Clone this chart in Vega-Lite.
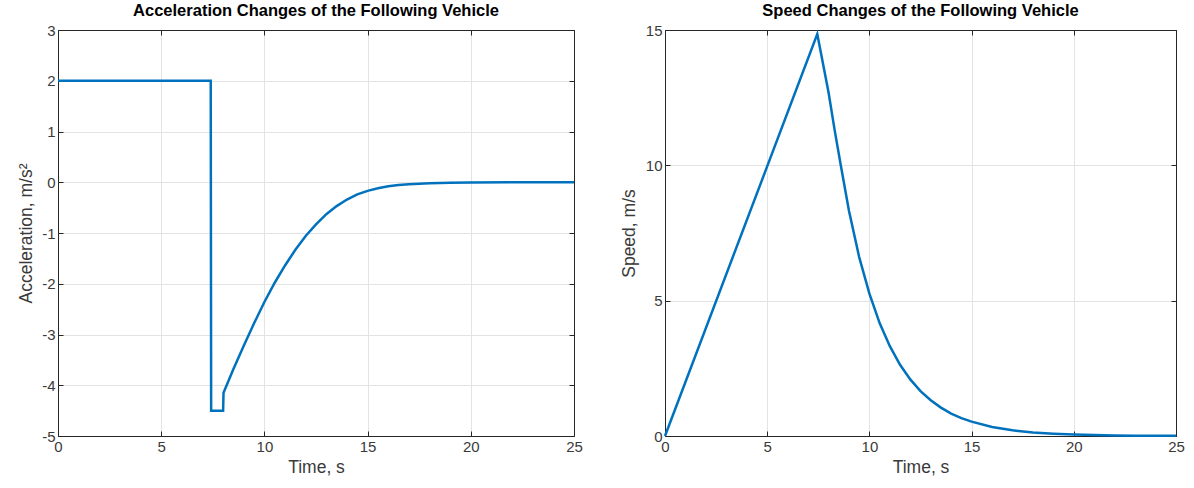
{
  "$schema": "https://vega.github.io/schema/vega-lite/v6.json",
  "background": "white",
  "padding": {"left": 17, "top": 2, "right": 14, "bottom": 5},
  "config": {
    "font": "Liberation Sans",
    "view": {"stroke": "#262626", "strokeWidth": 1},
    "title": {"font": "Liberation Sans", "fontSize": 16.5, "fontWeight": "bold", "color": "#000000", "offset": 4},
    "axis": {
      "labelFont": "Liberation Sans", "labelFontSize": 15, "labelColor": "#3a3a3a", "labelFlush": false,
      "labelExpr": "replace(datum.label, '\u2212', '-')",
      "titleFont": "Liberation Sans", "titleFontSize": 17.5, "titleFontWeight": "normal", "titleColor": "#3a3a3a",
      "domainColor": "#262626", "tickColor": "#262626", "tickSize": -5, "labelPadding": 8,
      "gridColor": "#e3e3e3", "gridWidth": 1
    }
  },
  "datasets": {
    "accel": [
      {"t": 0, "a": 2}, {"t": 7.4, "a": 2}, {"t": 7.42, "a": -4.5}, {"t": 8.0, "a": -4.5}, {"t": 8.02, "a": -4.15},
      {"t": 8.5, "a": -3.68}, {"t": 9.0, "a": -3.22}, {"t": 9.5, "a": -2.78}, {"t": 10.0, "a": -2.36},
      {"t": 10.5, "a": -1.98}, {"t": 11.0, "a": -1.64}, {"t": 11.5, "a": -1.33}, {"t": 12.0, "a": -1.06},
      {"t": 12.5, "a": -0.83}, {"t": 13.0, "a": -0.63}, {"t": 13.5, "a": -0.47}, {"t": 14.0, "a": -0.34},
      {"t": 14.5, "a": -0.24}, {"t": 15.0, "a": -0.17}, {"t": 15.5, "a": -0.12}, {"t": 16.0, "a": -0.08},
      {"t": 16.5, "a": -0.055}, {"t": 17.0, "a": -0.038}, {"t": 18.0, "a": -0.018}, {"t": 19.0, "a": -0.009},
      {"t": 20.0, "a": -0.004}, {"t": 22.0, "a": -0.001}, {"t": 25.0, "a": 0}
    ],
    "speed": [
      {"t": 0, "v": 0}, {"t": 7.45, "v": 14.85}, {"t": 8.0, "v": 12.7}, {"t": 8.3, "v": 11.3},
      {"t": 8.6, "v": 10.0}, {"t": 9.0, "v": 8.32}, {"t": 9.5, "v": 6.61}, {"t": 10.0, "v": 5.26},
      {"t": 10.5, "v": 4.17}, {"t": 11.0, "v": 3.32}, {"t": 11.5, "v": 2.63}, {"t": 12.0, "v": 2.09},
      {"t": 12.5, "v": 1.66}, {"t": 13.0, "v": 1.32}, {"t": 13.5, "v": 1.05}, {"t": 14.0, "v": 0.83},
      {"t": 14.5, "v": 0.66}, {"t": 15.0, "v": 0.53}, {"t": 16.0, "v": 0.33}, {"t": 17.0, "v": 0.21},
      {"t": 18.0, "v": 0.13}, {"t": 19.0, "v": 0.084}, {"t": 20.0, "v": 0.053}, {"t": 21.0, "v": 0.033},
      {"t": 22.0, "v": 0.021}, {"t": 23.0, "v": 0.013}, {"t": 24.0, "v": 0.008}, {"t": 25.0, "v": 0.005}
    ]
  },
  "spacing": 91,
  "bounds": "flush",
  "hconcat": [
    {
      "title": "Acceleration Changes of the Following Vehicle",
      "width": 516,
      "height": 406,
      "data": {"name": "accel"},
      "layer": [
        {
          "mark": {"type": "line", "color": "#0072BD", "strokeWidth": 2.5},
          "encoding": {
            "x": {"field": "t", "type": "quantitative", "scale": {"domain": [0, 25], "nice": false},
                  "axis": {"values": [0, 5, 10, 15, 20, 25], "title": "Time, s", "grid": true, "titlePadding": 4}},
            "y": {"field": "a", "type": "quantitative", "scale": {"domain": [-5, 3], "nice": false},
                  "axis": {"values": [-5, -4, -3, -2, -1, 0, 1, 2, 3], "title": "Acceleration, m/s²", "grid": true, "titlePadding": 6}}
          }
        },
        {
          "mark": {"type": "line", "opacity": 0},
          "encoding": {
            "x": {"field": "t", "type": "quantitative",
                  "axis": {"orient": "top", "values": [0, 5, 10, 15, 20, 25], "labels": false, "title": null, "grid": false}},
            "y": {"field": "a", "type": "quantitative",
                  "axis": {"orient": "right", "values": [-5, -4, -3, -2, -1, 0, 1, 2, 3], "labels": false, "title": null, "grid": false}}
          }
        }
      ],
      "resolve": {"axis": {"x": "independent", "y": "independent"}}
    },
    {
      "title": "Speed Changes of the Following Vehicle",
      "width": 511,
      "height": 406,
      "data": {"name": "speed"},
      "layer": [
        {
          "mark": {"type": "line", "color": "#0072BD", "strokeWidth": 2.5},
          "encoding": {
            "x": {"field": "t", "type": "quantitative", "scale": {"domain": [0, 25], "nice": false},
                  "axis": {"values": [0, 5, 10, 15, 20, 25], "title": "Time, s", "grid": true, "titlePadding": 4}},
            "y": {"field": "v", "type": "quantitative", "scale": {"domain": [0, 15], "nice": false},
                  "axis": {"values": [0, 5, 10, 15], "title": "Speed, m/s", "grid": true, "titlePadding": 7}}
          }
        },
        {
          "mark": {"type": "line", "opacity": 0},
          "encoding": {
            "x": {"field": "t", "type": "quantitative",
                  "axis": {"orient": "top", "values": [0, 5, 10, 15, 20, 25], "labels": false, "title": null, "grid": false}},
            "y": {"field": "v", "type": "quantitative",
                  "axis": {"orient": "right", "values": [0, 5, 10, 15], "labels": false, "title": null, "grid": false}}
          }
        }
      ],
      "resolve": {"axis": {"x": "independent", "y": "independent"}}
    }
  ]
}
